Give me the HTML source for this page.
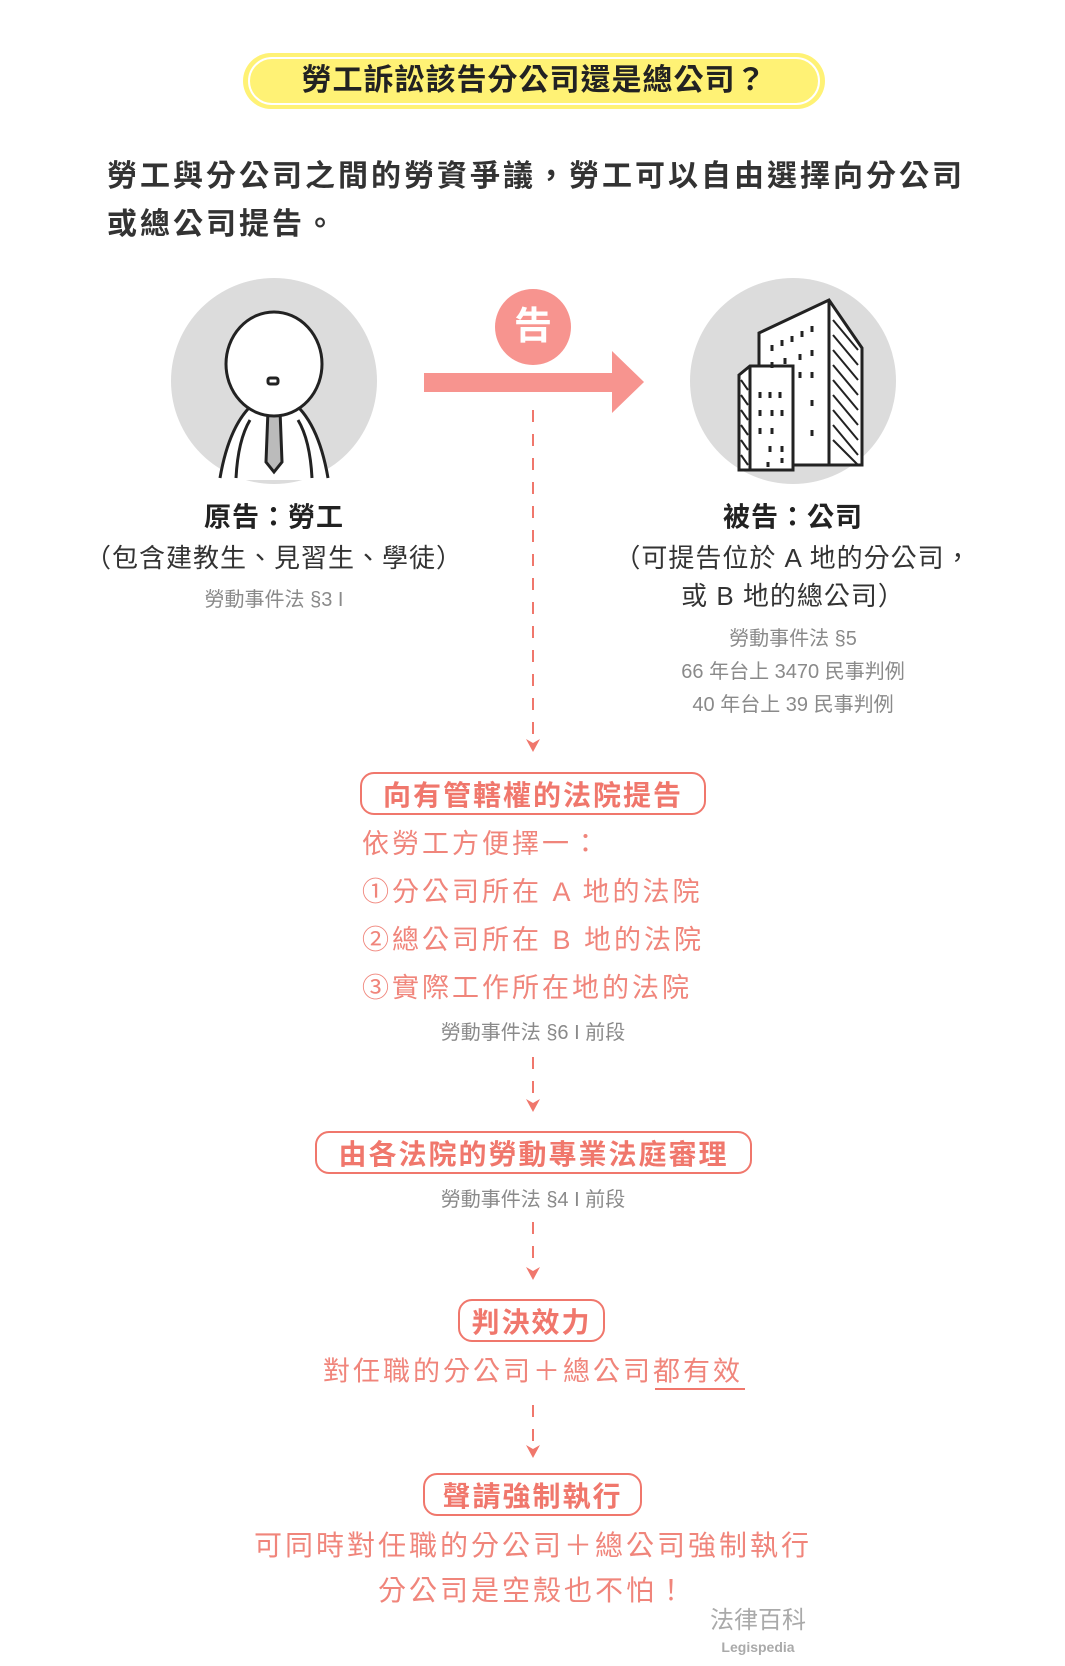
<!DOCTYPE html>
<html><head><meta charset="utf-8"><style>
body{margin:0;background:#fff;}
#c{position:relative;width:1065px;height:1666px;overflow:hidden;font-family:"Liberation Sans","Noto Sans CJK TC",sans-serif;}
.t{position:absolute;white-space:nowrap;line-height:1;}
.ctr{transform:translate(-50%,-50%);}
.box{position:absolute;border:2.5px solid #f0776c;border-radius:14px;box-sizing:border-box;color:#f0776c;font-weight:bold;font-size:28px;display:flex;align-items:center;justify-content:center;letter-spacing:2px;}
.g{color:#8a8a8a;font-size:20px;}
.r{color:#f0857b;font-size:27px;letter-spacing:3px;}
</style></head><body><div id="c">
<svg width="1065" height="1666" style="position:absolute;left:0;top:0">
<rect x="243" y="53" width="582" height="56" rx="28" fill="#fff275"/>
<rect x="249" y="58" width="570" height="46" rx="23" fill="none" stroke="#fff" stroke-width="2"/>
<circle cx="274" cy="381" r="103" fill="#dcdcdc"/>
<circle cx="793" cy="381" r="103" fill="#dcdcdc"/>
<g stroke="#222" stroke-width="3" fill="#fff">
<path d="M220 480 Q232 420 258 400 L290 400 Q316 420 328 480 Z" stroke="none"/>
<path d="M220 478 Q230 420 258 400 M328 478 Q318 420 290 400 M236 478 Q238 440 250 420 M312 478 Q310 440 298 420" fill="none"/>
<path d="M256 398 L274 412 L292 398" fill="none"/>
<path d="M268 410 L280 410 L282 462 L274 472 L266 462 Z" fill="#bbb"/>
<ellipse cx="274" cy="364" rx="48" ry="52"/>
<rect x="268" y="378" width="10" height="6" rx="2" fill="#fff"/>
</g>
<g stroke="#222" stroke-width="3" fill="#fff">
<path d="M759 333 L829 300 L862 348 L862 465 L759 465 Z"/>
<path d="M829 300 L829 465" fill="none"/>
<path d="M739 375 L750 366 L793 366 L793 470 L739 470 Z"/>
<path d="M750 366 L750 470" fill="none"/>
</g>
<g stroke="#222" stroke-width="2">
<path d="M833 320 L858 350 M833 335 L858 365 M833 350 L858 380 M833 365 L858 395 M833 380 L858 410 M833 395 L858 425 M833 410 L858 440 M833 425 L858 455 M833 440 L858 465 M741 380 L748 390 M741 395 L748 405 M741 410 L748 420 M741 425 L748 435 M741 440 L748 450 M741 455 L748 465"/>
<path d="M772 345v6M782 340v6M792 336v6M802 331v6M812 326v6M772 362v6M785 358v6M800 354v6M812 350v6M800 372v6M812 372v6M760 392v6M770 392v6M780 392v6M760 410v6M772 410v6M782 410v6M760 428v6M772 428v6M770 446v6M782 446v6M812 400v6M812 430v6M768 462v5M782 458v5" stroke-width="3"/>
</g>
<rect x="424" y="373" width="192" height="19" fill="#f7948f"/>
<path d="M612 351 L644 382 L612 413 Z" fill="#f7948f"/>
<circle cx="533" cy="327" r="38" fill="#f7948f"/>
<g stroke="#f0776c" stroke-width="2" stroke-dasharray="12,12" fill="none">
<path d="M533 410 V738"/><path d="M533 1057 V1098"/><path d="M533 1222 V1266"/><path d="M533 1405 V1444"/>
</g>
<g fill="#f0776c">
<path d="M526 739 L533 752 L540 739 L533 743Z"/>
<path d="M526 1099 L533 1112 L540 1099 L533 1103Z"/>
<path d="M526 1267 L533 1280 L540 1267 L533 1271Z"/>
<path d="M526 1445 L533 1458 L540 1445 L533 1449Z"/>
</g>
<rect x="655" y="1388" width="90" height="2" fill="#f0776c"/>
</svg>
<div class="t ctr" style="left:534px;top:81px;font-size:30px;font-weight:bold;color:#222;letter-spacing:1px">勞工訴訟該告分公司還是總公司？</div>
<div class="t" style="left:107px;top:162px;font-size:30px;font-weight:bold;color:#333;letter-spacing:3px">勞工與分公司之間的勞資爭議，勞工可以自由選擇向分公司</div>
<div class="t" style="left:107px;top:210px;font-size:30px;font-weight:bold;color:#333;letter-spacing:3px">或總公司提告。</div>
<div class="t ctr" style="left:533px;top:327px;font-size:38px;font-weight:bold;color:#fff">告</div>
<div class="t ctr" style="left:274px;top:518px;font-size:27px;font-weight:bold;color:#222;letter-spacing:1px">原告：勞工</div>
<div class="t ctr" style="left:274px;top:558px;font-size:26px;color:#333;letter-spacing:1px">（包含建教生、見習生、學徒）</div>
<div class="t ctr g" style="left:274px;top:600px">勞動事件法 §3 I</div>
<div class="t ctr" style="left:793px;top:518px;font-size:27px;font-weight:bold;color:#222;letter-spacing:1px">被告：公司</div>
<div class="t ctr" style="left:793px;top:558px;font-size:26px;color:#333;letter-spacing:1px">（可提告位於 A 地的分公司，</div>
<div class="t ctr" style="left:793px;top:596px;font-size:26px;color:#333;letter-spacing:1px">或 B 地的總公司）</div>
<div class="t ctr g" style="left:793px;top:639px">勞動事件法 §5</div>
<div class="t ctr g" style="left:793px;top:672px">66 年台上 3470 民事判例</div>
<div class="t ctr g" style="left:793px;top:705px">40 年台上 39 民事判例</div>
<div class="box" style="left:360px;top:772px;width:346px;height:43px">向有管轄權的法院提告</div>
<div class="t r" style="left:362px;top:831px">依勞工方便擇一：</div>
<div class="t r" style="left:362px;top:879px">①分公司所在 A 地的法院</div>
<div class="t r" style="left:362px;top:927px">②總公司所在 B 地的法院</div>
<div class="t r" style="left:362px;top:975px">③實際工作所在地的法院</div>
<div class="t ctr g" style="left:533px;top:1033px">勞動事件法 §6 I 前段</div>
<div class="box" style="left:315px;top:1131px;width:437px;height:43px">由各法院的勞動專業法庭審理</div>
<div class="t ctr g" style="left:533px;top:1200px">勞動事件法 §4 I 前段</div>
<div class="box" style="left:458px;top:1299px;width:147px;height:43px">判決效力</div>
<div class="t ctr r" style="left:533px;top:1372px">對任職的分公司＋總公司都有效</div>
<div class="box" style="left:423px;top:1473px;width:219px;height:43px">聲請強制執行</div>
<div class="t ctr r" style="left:533px;top:1546px;font-size:28px">可同時對任職的分公司＋總公司強制執行</div>
<div class="t ctr r" style="left:533px;top:1591px;font-size:28px">分公司是空殼也不怕！</div>
<div class="t ctr" style="left:758px;top:1621px;font-size:24px;color:#aaa">法律百科</div>
<div class="t ctr" style="left:758px;top:1647px;font-size:14px;font-weight:bold;color:#aaa">Legispedia</div>
</div></body></html>
